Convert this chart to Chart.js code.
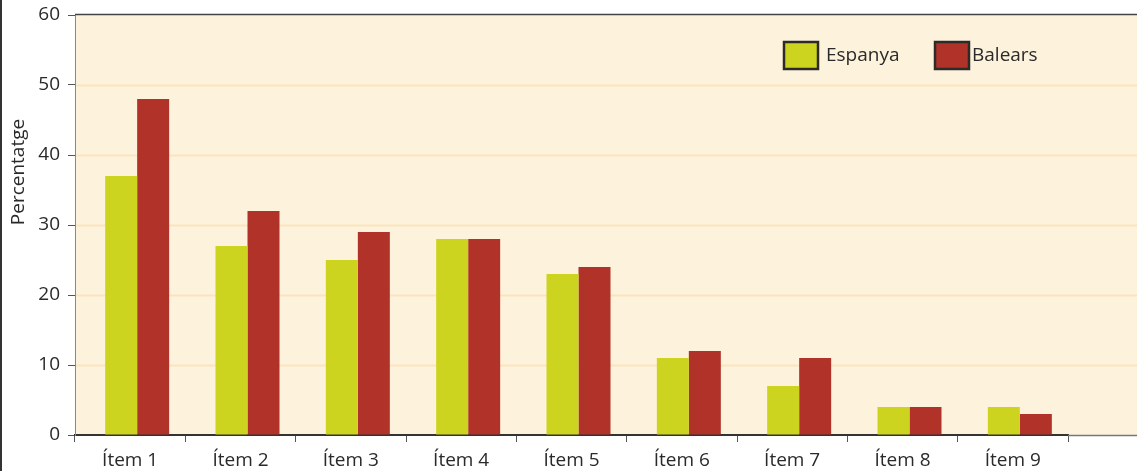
<!DOCTYPE html>
<html>
<head>
<meta charset="utf-8">
<script src="https://cdn.jsdelivr.net/npm/chart.js@4"></script>
<style>
html,body{margin:0;padding:0;background:#fff;}
#wrap{width:1137px;height:471px;position:relative;}
</style>
</head>
<body>
<div id="wrap"><canvas id="c" width="1137" height="471"></canvas></div>
<script>
const categories = ['Ítem 1','Ítem 2','Ítem 3','Ítem 4','Ítem 5','Ítem 6','Ítem 7','Ítem 8','Ítem 9'];
const espanya = [37, 27, 25, 28, 23, 11, 7, 4, 4];
const balears = [48, 32, 29, 28, 24, 12, 11, 4, 3];
const seriesNames = ['Espanya', 'Balears'];
const yTicks = [0, 10, 20, 30, 40, 50, 60];
const yTitle = 'Percentatge';

const FONT = '"Open Sans", "Noto Sans", sans-serif';
const TXT = '#2a2a2a';
const C_ESP = '#cdd41f';
const C_BAL = '#b03228';
const BG = '#fdf2dc';
const GRID = '#fbe3bb';

const decor = {
  id: 'decor',
  afterDatasetsUpdate(chart) {
    chart.data.datasets.forEach((ds, i) => {
      chart.getDatasetMeta(i).data.forEach(el => { el.x += 7; });
    });
  },
  beforeDraw(chart) {
    const {ctx, chartArea: a, scales: {y}} = chart;
    const W = chart.width;
    ctx.save();
    ctx.fillStyle = BG;
    ctx.fillRect(a.left, a.top, W - a.left, a.bottom - a.top);
    ctx.strokeStyle = GRID;
    ctx.lineWidth = 2;
    yTicks.forEach(v => {
      if (v === 0 || v === 60) return;
      const py = Math.round(y.getPixelForValue(v)) + 0.5;
      ctx.beginPath(); ctx.moveTo(a.left + 1, py); ctx.lineTo(W, py); ctx.stroke();
    });
    ctx.restore();
  },
  afterDraw(chart) {
    const {ctx, chartArea: a} = chart;
    const W = chart.width, H = chart.height;
    ctx.save();
    ctx.strokeStyle = '#444';
    ctx.lineWidth = 1.5;
    ctx.beginPath(); ctx.moveTo(a.left, a.top - 0.5); ctx.lineTo(W, a.top - 0.5); ctx.stroke();
    ctx.strokeStyle = '#333';
    ctx.lineWidth = 2;
    ctx.beginPath(); ctx.moveTo(1, 0); ctx.lineTo(1, H); ctx.stroke();
    ctx.strokeStyle = '#777';
    ctx.lineWidth = 1.5;
    ctx.beginPath(); ctx.moveTo(a.right, a.bottom + 0.5); ctx.lineTo(W, a.bottom + 0.5); ctx.stroke();
    ctx.fillStyle = TXT;
    ctx.font = '19px ' + FONT;
    ctx.translate(19, 172);
    ctx.rotate(-Math.PI / 2);
    ctx.textAlign = 'center';
    ctx.textBaseline = 'middle';
    ctx.fillText(yTitle, 0, 0);
    ctx.restore();
    ctx.save();
    ctx.font = '19px ' + FONT;
    ctx.textBaseline = 'middle';
    const items = [{x: 784, tx: 826}, {x: 935, tx: 972}];
    chart.data.datasets.forEach((ds, i) => {
      const it = items[i];
      ctx.fillStyle = ds.backgroundColor;
      ctx.fillRect(it.x, 42, 34, 27);
      ctx.strokeStyle = '#2e2a26';
      ctx.lineWidth = 2.5;
      ctx.strokeRect(it.x, 42, 34, 27);
      ctx.fillStyle = TXT;
      ctx.fillText(ds.label, it.tx, 56);
    });
    ctx.restore();
  }
};

new Chart(document.getElementById('c'), {
  type: 'bar',
  data: {
    labels: categories,
    datasets: [
      {label: seriesNames[0], data: espanya, backgroundColor: C_ESP, borderWidth: 0},
      {label: seriesNames[1], data: balears, backgroundColor: C_BAL, borderWidth: 0}
    ]
  },
  options: {
    responsive: false,
    animation: false,
    layout: {padding: {left: 0, right: 1137 - 1068, top: 15, bottom: 0}},
    plugins: {legend: {display: false}, tooltip: {enabled: false}},
    datasets: {bar: {categoryPercentage: 0.58, barPercentage: 1.0}},
    scales: {
      x: {
        offset: true,
        grid: {drawOnChartArea: false, offset: true, tickLength: 7, tickColor: '#555', lineWidth: 1},
        border: {color: '#333', width: 2},
        ticks: {color: TXT, font: {size: 19, family: FONT}, padding: 7, maxRotation: 0},
        afterFit(s) { s.height = 36; s.paddingLeft = 0; s.paddingRight = 0; }
      },
      y: {
        min: 0, max: 60,
        afterBuildTicks(s) { s.ticks = yTicks.map(v => ({value: v})); },
        grid: {drawOnChartArea: false, tickLength: 7, tickColor: '#555'},
        border: {color: '#888', width: 1},
        ticks: {color: TXT, font: {size: 19, family: FONT}, padding: 8},
        afterFit(s) { s.width = 75; s.paddingTop = 0; s.paddingBottom = 0; }
      }
    }
  },
  plugins: [decor]
});
</script>
</body>
</html>
